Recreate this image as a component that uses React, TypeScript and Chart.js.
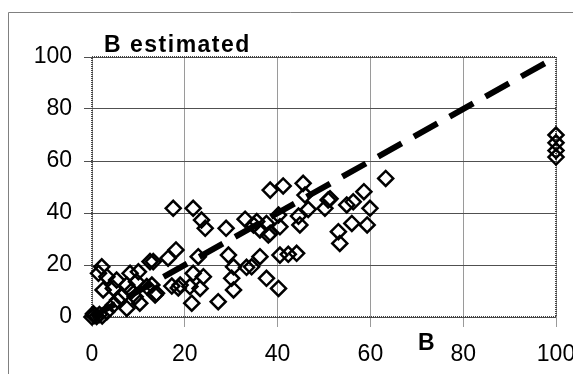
import React, { useEffect, useRef } from "react";
import { Chart, registerables } from "chart.js";

Chart.register(...registerables);

// Measured B values (x) and estimated B values (y)
const bValues: number[] = [
  0, 0.5, 1, 1.6, 2.2, 0.3,
  2.1, 1.4, 3.2, 5.3, 4.6, 2.4, 8.2, 10, 12.5, 7.5, 9.6, 11.8, 13.9, 6.4, 9.3, 10.3, 4.6, 7.5, 3.2, 5.5, 8.5,
  17.5, 21.8, 23.6, 24.4, 28.9, 33, 34.8, 13.2, 16.4, 18.1, 22.9, 29.4, 30.5, 33.3, 21.8, 24, 19, 17.2, 21.1, 23.3,
  30.1, 30.5, 21.5, 27.2, 13.6, 12.9, 18.6,
  38.4, 41.2, 45.5, 45.9, 46.6, 44.5, 40.2, 40.5, 37.6, 38.4, 36.2, 50.9, 50.2, 53.1, 53.4, 56, 54.9, 56.3,
  36.2, 40.5, 42.3, 44.1, 37.6, 40.2, 34.4, 63.3, 58.6, 59.9, 59.3, 35.5, 38, 44.8, 51.3,
  100, 100, 100, 100,
];
const bEstimatedValues: number[] = [
  0, 0.6, 0.2, 1, 0.4, 1.2,
  19.3, 16.8, 15.5, 14.2, 11, 10.4, 16.8, 17.4, 21.3, 12.3, 13.6, 11.7, 9.1, 7.8, 7.8, 5.3, 4.6, 3.3, 2, 6.5, 10,
  41.8, 41.8, 37.3, 34.1, 34.1, 37.6, 35.4, 21.3, 22.6, 25.8, 23.2, 23.8, 19.3, 19.1, 16.8, 15.5, 12.3, 11.9, 11.7, 11,
  14.9, 10.4, 5.3, 5.9, 8.5, 12.3, 11.2,
  48.8, 50.4, 51.4, 46.9, 41.4, 38.8, 39.2, 34.7, 36, 32.2, 33.5, 45, 41.8, 32.8, 28.3, 36, 43.1, 44.3,
  23.2, 23.8, 24.1, 24.5, 14.9, 11, 19.3, 53.3, 48.2, 41.8, 35.4, 36.7, 31.5, 35.4, 45.5,
  70, 67, 64, 61.5,
];

// Identity reference line
const lineX: number[] = [0, 100];
const lineY: number[] = [0, 100];

const axisMin = 0;
const axisMax = 100;
const tickStep = 20;

const yTitle = "B estimated";
const xTitle = "B";

const FONT = "'Liberation Sans', Arial, Helvetica, sans-serif";

const decorPlugin = {
  id: "decor",
  beforeDraw(chart: any) {
    const { ctx, width, height } = chart;
    ctx.save();
    ctx.fillStyle = "#ffffff";
    ctx.fillRect(0, 0, width, height);
    ctx.strokeStyle = "#808080";
    ctx.lineWidth = 1;
    ctx.beginPath();
    ctx.moveTo(8.5, height);
    ctx.lineTo(8.5, 12.5);
    ctx.lineTo(width, 12.5);
    ctx.stroke();
    ctx.restore();
  },
  beforeDatasetsDraw(chart: any) {
    const { ctx, chartArea } = chart;
    const { left, right, top, bottom } = chartArea;
    ctx.save();
    ctx.strokeStyle = "#444444";
    ctx.lineWidth = 2;
    ctx.setLineDash([1, 1]);
    ctx.beginPath();
    ctx.rect(left, top, right - left, bottom - top);
    ctx.stroke();
    ctx.restore();
  },
  afterDraw(chart: any) {
    const { ctx, chartArea } = chart;
    ctx.save();
    ctx.fillStyle = "#000000";
    ctx.font = `bold 23px ${FONT}`;
    ctx.textBaseline = "alphabetic";
    ctx.textAlign = "left";
    (ctx as any).letterSpacing = "1.5px";
    ctx.fillText(yTitle, chartArea.left + 12, chartArea.top - 5);
    (ctx as any).letterSpacing = "0px";
    ctx.fillText(xTitle, chartArea.left + 326, chartArea.bottom + 33);
    ctx.restore();
  },
};

export default function App() {
  const canvasRef = useRef<HTMLCanvasElement | null>(null);

  useEffect(() => {
    if (!canvasRef.current) return;
    const points = bValues.map((x, i) => ({ x, y: bEstimatedValues[i] }));
    const linePoints = lineX.map((x, i) => ({ x, y: lineY[i] }));

    const chart = new Chart(canvasRef.current, {
      type: "scatter",
      data: {
        datasets: [
          {
            type: "line",
            data: linePoints,
            borderColor: "#000000",
            borderWidth: 6,
            borderDash: [27, 14],
            pointRadius: 0,
            showLine: true,
            fill: false,
            clip: false as any,
            order: 2,
          } as any,
          {
            type: "scatter",
            data: points,
            pointStyle: "rectRot",
            pointRadius: 7.5,
            pointBorderWidth: 2.5,
            borderColor: "#000000",
            backgroundColor: "rgba(0,0,0,0)",
            pointBackgroundColor: "rgba(0,0,0,0)",
            pointBorderColor: "#000000",
            clip: false as any,
            order: 1,
          } as any,
        ],
      },
      options: {
        animation: false,
        responsive: false,
        devicePixelRatio: 1,
        layout: { padding: { left: 0, right: 17, top: 57, bottom: 0 } },
        plugins: {
          legend: { display: false },
          tooltip: { enabled: false },
          title: { display: false },
        },
        scales: {
          x: {
            type: "linear",
            min: axisMin,
            max: axisMax,
            border: { display: false },
            grid: {
              color: "#9a9a9a",
              lineWidth: 1,
              drawTicks: true,
              tickLength: 10,
            },
            ticks: {
              stepSize: tickStep,
              color: "#000000",
              padding: 14,
              maxRotation: 0,
              autoSkip: false,
              font: { family: FONT, size: 23 },
            },
            afterFit: (scale: any) => {
              scale.height = 57;
              scale.paddingLeft = 0;
              scale.paddingRight = 0;
            },
          },
          y: {
            type: "linear",
            min: axisMin,
            max: axisMax,
            border: { display: false },
            grid: {
              color: "#505050",
              lineWidth: 1,
              drawTicks: true,
              tickLength: 8,
            },
            ticks: {
              stepSize: tickStep,
              color: "#000000",
              padding: 12,
              autoSkip: false,
              font: { family: FONT, size: 23 },
            },
            afterFit: (scale: any) => {
              scale.width = 92;
              scale.paddingTop = 0;
              scale.paddingBottom = 0;
            },
          },
        },
      },
      plugins: [decorPlugin],
    });

    return () => {
      chart.destroy();
    };
  }, []);

  return (
    <div style={{ position: "absolute", left: 0, top: 0, width: 573, height: 374, background: "#fff" }}>
      <canvas ref={canvasRef} width={573} height={374} style={{ display: "block", width: 573, height: 374 }} />
    </div>
  );
}
